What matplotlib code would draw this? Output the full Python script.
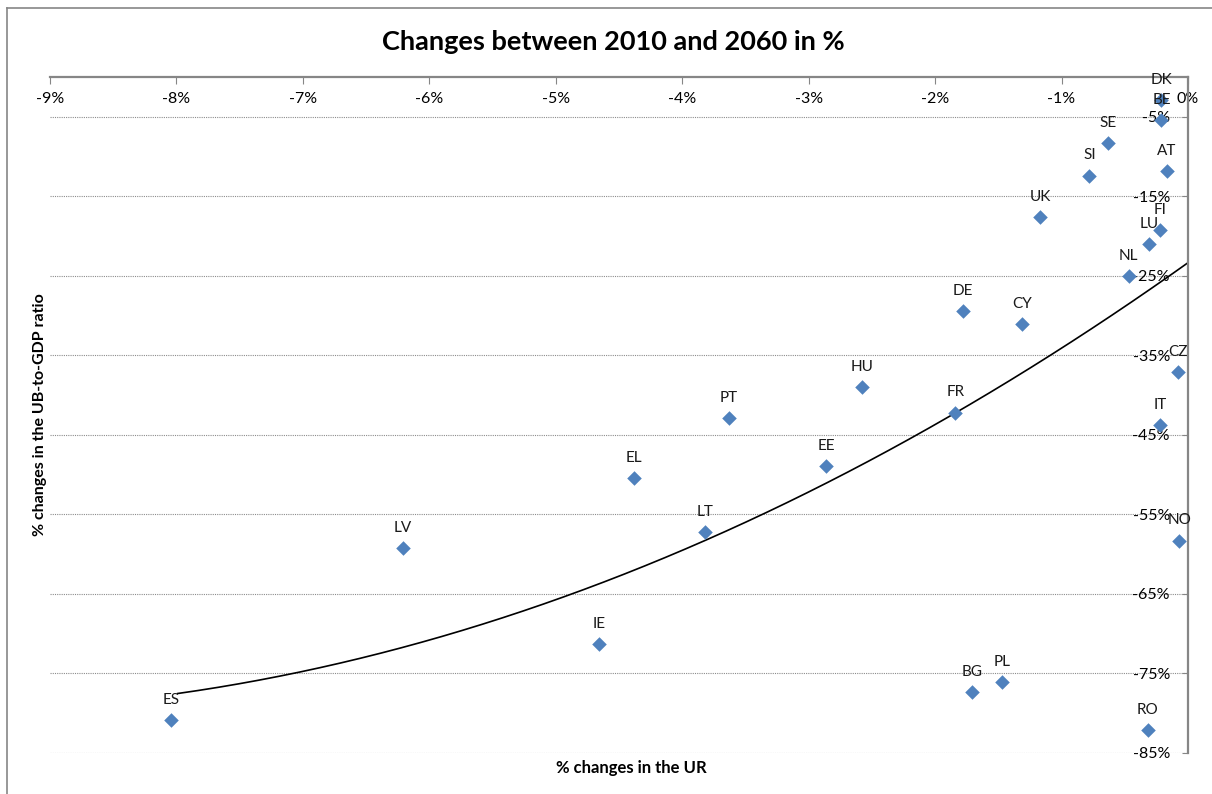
# scatter of UR change vs UB-to-GDP change, 2010-2060, with quadratic trend

import numpy as np
import matplotlib
matplotlib.use('Agg')
import matplotlib.pyplot as plt
from matplotlib.lines import Line2D
from matplotlib.ticker import FuncFormatter

# data (percent)
countries = ['DK', 'BE', 'SE', 'AT', 'SI', 'UK', 'FI', 'LU', 'NL', 'DE', 'CY', 'CZ', 'HU',
             'FR', 'PT', 'IT', 'EE', 'EL', 'LT', 'NO', 'LV', 'IE', 'PL', 'BG', 'RO', 'ES']
ur_change = [-0.21, -0.21, -0.63, -0.17, -0.78, -1.17, -0.22, -0.31, -0.47, -1.78, -1.31, -0.08, -2.58,
             -1.84, -3.63, -0.22, -2.86, -4.38, -3.82, -0.07, -6.21, -4.66, -1.47, -1.71, -0.32, -8.04]
ub_change = [-2.9, -5.4, -8.3, -11.8, -12.4, -17.6, -19.2, -21.0, -25.0, -29.4, -31.1, -37.1, -39.0,
             -42.2, -42.9, -43.8, -48.9, -50.4, -57.2, -58.3, -59.2, -71.3, -76.1, -77.3, -82.1, -80.9]
# order-2 trendline as drawn in the chart (a*x^2 + b*x + c)
trend_coef = [0.567, 11.31, -23.35]
xticks = [-9, -8, -7, -6, -5, -4, -3, -2, -1, 0]
yticks = [-85, -75, -65, -55, -45, -35, -25, -15, -5]

blue = '#4F81BD'
grey = '#868686'
font = 'Lato'

fig = plt.figure(figsize=(12.12, 7.94), dpi=100)
ax = fig.add_axes([50/1212, 1 - 753/794, (1188-50)/1212, (753-77)/794])

x = np.array(ur_change)
y = np.array(ub_change)

xs = np.linspace(-7.99, 0, 200)
ax.plot(xs, np.polyval(trend_coef, xs), color='black', lw=1.2, zorder=2)

ax.scatter(x, y, marker='D', s=55, color=blue, zorder=3, linewidths=0)
for c, xi, yi in zip(countries, x, y):
    ax.annotate(c, (xi, yi), xytext=(0, 9.5), textcoords='offset points',
                ha='center', va='bottom', fontsize=11, family=font, color='#1a1a1a')

ax.set_xlim(-9, 0)
ax.set_ylim(-85, 0)
ax.set_xticks(xticks)
ax.set_yticks(yticks)
pct = FuncFormatter(lambda v, p: '%d%%' % v)
ax.xaxis.set_major_formatter(pct)
ax.yaxis.set_major_formatter(pct)

ax.grid(axis='y', color='#8c8c8c', linestyle=(0, (1, 1)), lw=0.8)
ax.set_axisbelow(True)

for s in ['left', 'bottom']:
    ax.spines[s].set_visible(False)
for s in ['top', 'right']:
    ax.spines[s].set_color(grey)
    ax.spines[s].set_linewidth(1.6)

ax.tick_params(axis='x', bottom=False, labelbottom=False, top=True, labeltop=True,
               direction='in', length=5, color=grey, pad=-11, labelsize=11.5)
ax.tick_params(axis='y', left=False, labelleft=False, right=True, labelright=True,
               direction='in', length=4, color=grey, pad=-13, labelsize=11.5)
for lbl in ax.get_xticklabels():
    lbl.set_va('top')
    lbl.set_family(font)
for lbl in ax.get_yticklabels():
    lbl.set_ha('right')
    lbl.set_family(font)

fig.text(613/1212, 1 - 42/794, 'Changes between 2010 and 2060 in %', ha='center', va='center',
         fontsize=19.5, fontweight='bold', family=font)
fig.text(631/1212, 1 - 768/794, '% changes in the UR', ha='center', va='center',
         fontsize=12, fontweight='bold', family=font)
fig.text(40/1212, 1 - 415/794, '% changes in the UB-to-GDP ratio', ha='center', va='center',
         rotation=90, fontsize=11.5, fontweight='bold', family=font)

# chart area border (only top and left are inside the picture)
fig.add_artist(Line2D([7/1212, 1], [1 - 8/794, 1 - 8/794], color=grey, lw=1.2))
fig.add_artist(Line2D([7/1212, 7/1212], [0, 1 - 8/794], color=grey, lw=1.2))

fig.savefig('out.png', dpi=100)
